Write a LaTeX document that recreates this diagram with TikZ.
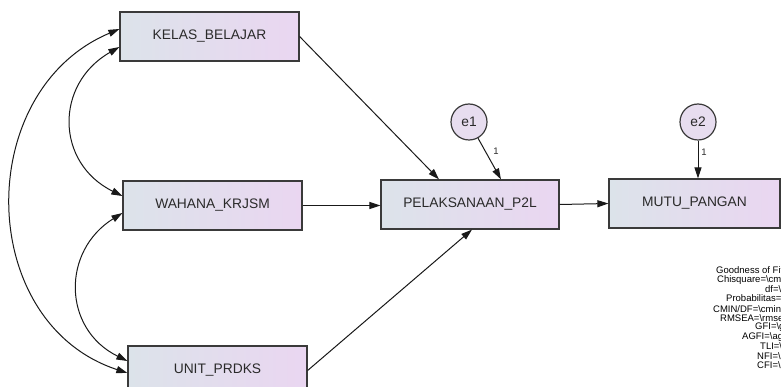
\documentclass[tikz,border=0pt]{standalone}
\usepackage{fontspec}
\setmainfont{Liberation Sans}
\usetikzlibrary{arrows.meta}
\definecolor{boxL}{HTML}{DCE3EA}
\definecolor{boxR}{HTML}{EAD6F1}
\definecolor{circF}{HTML}{E7DDEF}
\definecolor{edgec}{HTML}{3A3A3A}
\definecolor{lbl}{HTML}{2A2A2A}
\begin{document}
\begin{tikzpicture}[x=1pt,y=-1pt,
  var/.style={draw=edgec, line width=1.2pt, left color=boxL, right color=boxR,
    minimum height=49pt, inner sep=0pt, font=\fontsize{13.8}{16}\selectfont, text=lbl},
  err/.style={circle, draw=edgec, line width=1.2pt, fill=circF, minimum size=36pt,
    inner sep=0pt, font=\fontsize{13.8}{16}\selectfont, text=lbl},
  reg/.style={-{Triangle[length=11pt,width=7pt]}, line width=1pt, draw=black!90},
  cov/.style={{Triangle[length=11pt,width=7pt]}-{Triangle[length=11pt,width=7pt]},
    line width=1pt, draw=black!90},
  wlab/.style={font=\fontsize{9.5}{10}\selectfont, inner sep=0pt, text=lbl},
  gof/.style={font=\fontsize{9.5}{10}\selectfont, anchor=west, inner sep=0pt, text=black}]
\useasboundingbox (0,0) rectangle (781,387);
\clip (0,0) rectangle (781,387);

% observed variables
\node[var, minimum width=179pt] (K) at (209.5,36.5) {KELAS\_BELAJAR};
\node[var, minimum width=179pt] (W) at (212.5,205.5) {WAHANA\_KRJSM};
\node[var, minimum width=179pt] (U) at (217.5,370.5) {UNIT\_PRDKS};
\node[var, minimum width=178pt] (P) at (470,204.5) {PELAKSANAAN\_P2L};
\node[var, minimum width=171pt] (M) at (694.5,203.5) {MUTU\_PANGAN};

% errors
\node[err] (e1) at (469,122) {e1};
\node[err] (e2) at (698,122) {e2};

% regression paths
\draw[reg] (K.east) -- ([xshift=-31pt]P.north);
\draw[reg] (W.east) -- (W.east -| P.west);
\draw[reg] (U.east) -- ([xshift=2pt]P.south);
\draw[reg] (P.east) -- (M.west);
\draw[reg] (e1) -- ([xshift=31pt]P.north);
\draw[reg] (e2) -- (e2 |- M.north);
\node[wlab] (l1) at (496,151) {1};
\node[wlab] (l2) at (704,152) {1};

% covariances
\draw[cov] ([yshift=7.5pt]K.west) .. controls +(-147,62) and +(-152,-50) .. ([yshift=-2.5pt]U.west);
\draw[cov] ([yshift=-10.5pt]K.west) .. controls +(-65,37) and +(-67,-33) .. ([yshift=9.5pt]W.west);
\draw[cov] ([yshift=-7.5pt]W.west) .. controls +(-61,38) and +(-65,-32) .. ([yshift=9.5pt]U.west);

% goodness of fit
\node[gof] (g1) at (716,270) {Goodness of Fit};
\node[gof] (g2) at (717,280) {Chisquare=\textbackslash cmin};
\node[gof] (g3) at (765,289.5) {df=\textbackslash df};
\node[gof] (g4) at (726,299.5) {Probabilitas=\textbackslash p};
\node[gof] (g5) at (713,309) {CMIN/DF=\textbackslash cmindf};
\node[gof] (g6) at (720,318) {RMSEA=\textbackslash rmsea};
\node[gof] (g7) at (755,327.5) {GFI=\textbackslash gfi};
\node[gof] (g8) at (742,337) {AGFI=\textbackslash agfi};
\node[gof] (g9) at (760,346.5) {TLI=\textbackslash tli};
\node[gof] (g10) at (757,356) {NFI=\textbackslash nfi};
\node[gof] (g11) at (757,365) {CFI=\textbackslash cfi};
\end{tikzpicture}
\end{document}
